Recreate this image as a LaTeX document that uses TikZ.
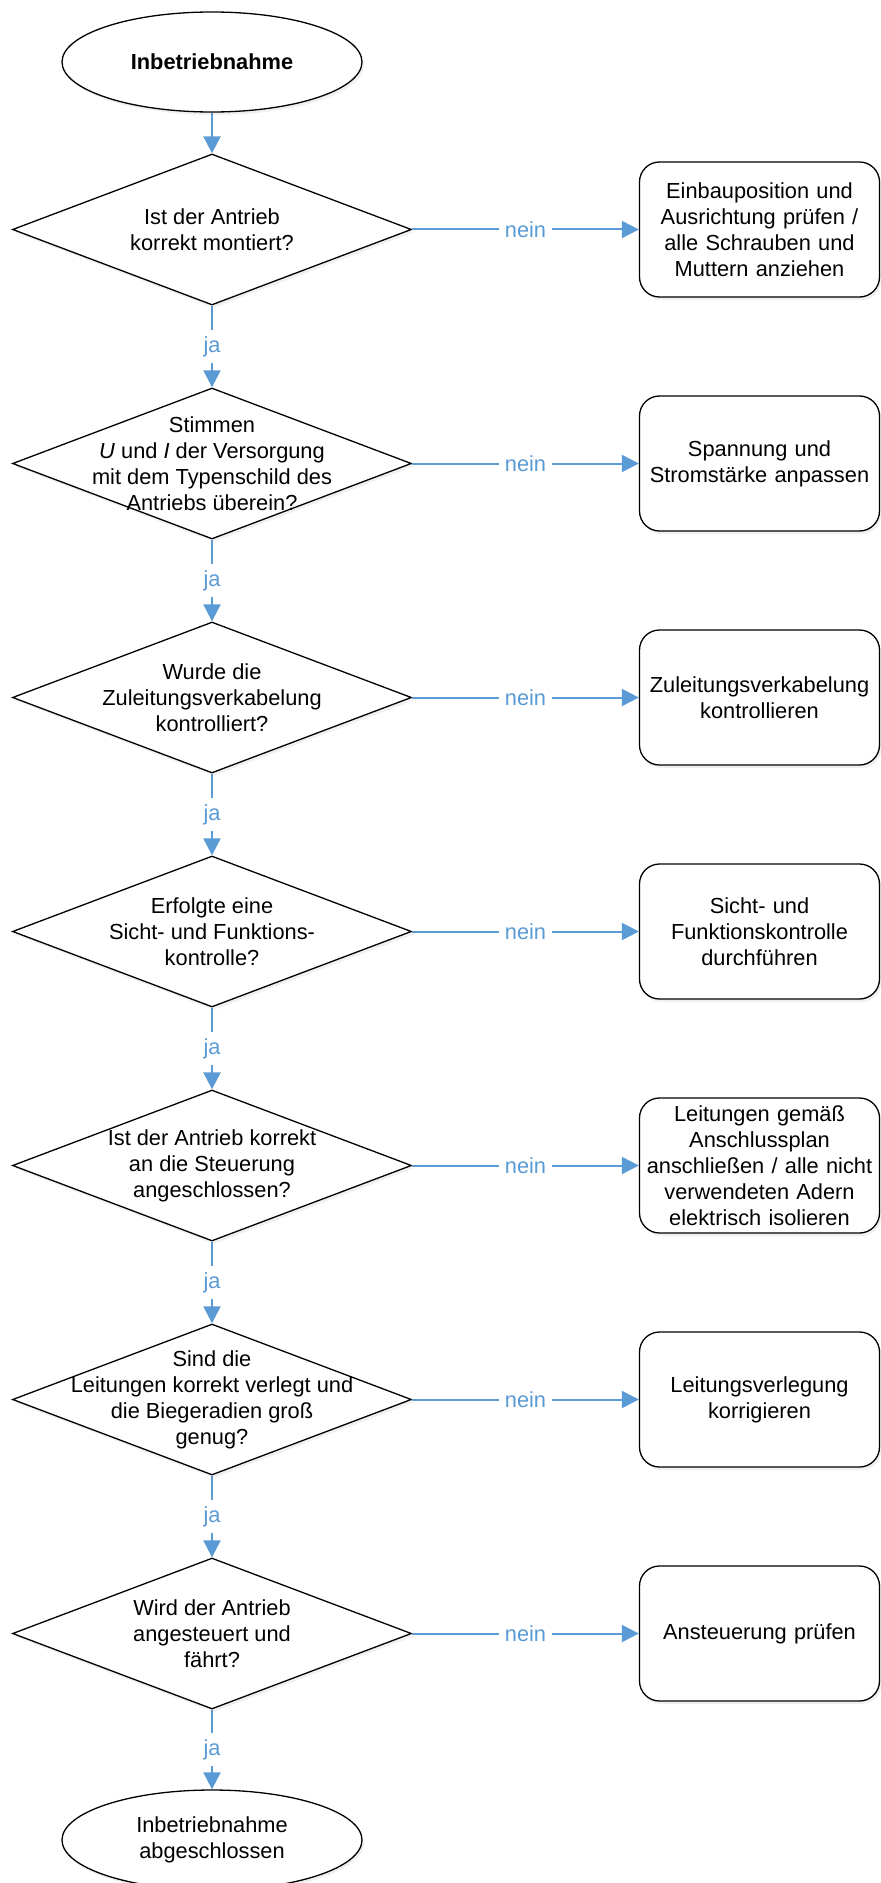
\documentclass[tikz,border=0pt]{standalone}
\usepackage{fontspec}
\setmainfont{Liberation Sans}
\usetikzlibrary{shapes.geometric,arrows.meta,shadows}
\definecolor{pfeilblau}{HTML}{5B9BD5}
\tikzstyle{every picture}=[node distance=117pt, font=\fontsize{10.9pt}{13pt}\selectfont,%
	>={Triangle[length=8.5pt,width=8.5pt]}]
\tikzstyle{schatten}=[drop shadow={opacity=0.12, shadow xshift=1pt, shadow yshift=-1.5pt}]
\tikzstyle{terminal}=[ellipse, draw, line width=0.65pt, fill=white, schatten,%
	minimum width=150pt, minimum height=50pt, inner sep=0pt, align=center]
\tikzstyle{frage}=[diamond, draw, line width=0.65pt, fill=white, schatten,%
	minimum width=199.5pt, minimum height=75.5pt, inner sep=0pt]
\tikzstyle{aktion}=[rectangle, rounded corners=10pt, draw, line width=0.65pt, fill=white, schatten,%
	minimum width=120pt, minimum height=67.5pt, text width=116pt, inner sep=2pt, align=center]
\tikzstyle{every label}=[align=center]
\tikzstyle{pfeil}=[->, draw=pfeilblau, line width=1pt]
\tikzstyle{antwort}=[fill=white, text=pfeilblau, inner sep=3pt]

\begin{document}
\begin{tikzpicture}
	\useasboundingbox (0,0) rectangle (440pt,-941.5pt);
	\node (start) [terminal] at (106pt,-31pt) {\textbf{Inbetriebnahme}};
	% Fragen
	\node (q1) [frage, node distance=83.75pt, below of=start,%
		label={center:Ist der Antrieb\\korrekt montiert?}] {};
	\node (q2) [frage, below of=q1,%
		label={center:Stimmen\\\textit{U} und \textit{I} der Versorgung\\mit dem Typenschild des\\Antriebs überein?}] {};
	\node (q3) [frage, below of=q2,%
		label={center:Wurde die\\Zuleitungsverkabelung\\kontrolliert?}] {};
	\node (q4) [frage, below of=q3,%
		label={center:Erfolgte eine\\Sicht- und Funktions-\\kontrolle?}] {};
	\node (q5) [frage, below of=q4,%
		label={center:Ist der Antrieb korrekt\\an die Steuerung\\angeschlossen?}] {};
	\node (q6) [frage, below of=q5,%
		label={center:Sind die\\Leitungen korrekt verlegt und\\die Biegeradien groß\\genug?}] {};
	\node (q7) [frage, below of=q6,%
		label={center:Wird der Antrieb\\angesteuert und\\fährt?}] {};
	\node (end) [terminal, node distance=103.25pt, below of=q7] {Inbetriebnahme\\abgeschlossen};
	% Massnahmen
	\node (a1) [aktion, node distance=273.75pt, right of=q1] {Einbauposition und\\Ausrichtung prüfen /\\alle Schrauben und\\Muttern anziehen};
	\node (a2) [aktion, node distance=273.75pt, right of=q2] {Spannung und\\Stromstärke anpassen};
	\node (a3) [aktion, node distance=273.75pt, right of=q3] {Zuleitungsverkabelung\\kontrollieren};
	\node (a4) [aktion, node distance=273.75pt, right of=q4] {Sicht- und\\Funktionskontrolle\\durchführen};
	\node (a5) [aktion, node distance=273.75pt, right of=q5] {Leitungen gemäß\\Anschlussplan\\anschließen / alle nicht\\verwendeten Adern\\elektrisch isolieren};
	\node (a6) [aktion, node distance=273.75pt, right of=q6] {Leitungsverlegung\\korrigieren};
	\node (a7) [aktion, node distance=273.75pt, right of=q7] {Ansteuerung prüfen};
	% Pfeile
	\draw[pfeil] (start) -- (q1);
	\draw[pfeil] (q1) -- node[antwort] {ja} (q2);
	\draw[pfeil] (q2) -- node[antwort] {ja} (q3);
	\draw[pfeil] (q3) -- node[antwort] {ja} (q4);
	\draw[pfeil] (q4) -- node[antwort] {ja} (q5);
	\draw[pfeil] (q5) -- node[antwort] {ja} (q6);
	\draw[pfeil] (q6) -- node[antwort] {ja} (q7);
	\draw[pfeil] (q7) -- node[antwort] {ja} (end);
	\draw[pfeil] (q1) -- node[antwort] {nein} (a1);
	\draw[pfeil] (q2) -- node[antwort] {nein} (a2);
	\draw[pfeil] (q3) -- node[antwort] {nein} (a3);
	\draw[pfeil] (q4) -- node[antwort] {nein} (a4);
	\draw[pfeil] (q5) -- node[antwort] {nein} (a5);
	\draw[pfeil] (q6) -- node[antwort] {nein} (a6);
	\draw[pfeil] (q7) -- node[antwort] {nein} (a7);
\end{tikzpicture}
\end{document}
